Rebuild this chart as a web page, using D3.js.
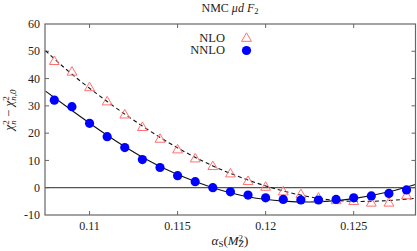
<!DOCTYPE html>
<html>
<head>
<meta charset="utf-8">
<script src="https://cdn.jsdelivr.net/npm/d3@7"></script>
<style>
  body { margin: 0; background: #fff; }
</style>
</head>
<body>
<div id="chart"></div>
<script>
// alpha_s scan points
const alphaS = [0.108, 0.109, 0.110, 0.111, 0.112, 0.113, 0.114, 0.115, 0.116, 0.117,
  0.118, 0.119, 0.120, 0.121, 0.122, 0.123, 0.124, 0.125, 0.126, 0.127, 0.128];
const nloPts = [46.2, 42.3, 36.6, 31.4, 26.6, 22.0, 17.7, 13.8, 10.5, 7.7,
  5.0, 2.2, 0.1, -1.6, -2.6, -3.9, -4.8, -5.1, -5.7, -5.7, -3.0];
const nnloPts = [32.1, 29.7, 23.6, 18.7, 14.7, 10.3, 7.4, 4.4, 2.2, 0.0,
  -1.5, -2.7, -3.7, -4.3, -4.5, -4.5, -4.3, -3.7, -3.0, -2.1, -0.8];

// fitted curves
const curveX = [0.1075, 0.109, 0.111, 0.113, 0.115, 0.117, 0.119, 0.121, 0.123, 0.125, 0.127, 0.1285];
const nloFit = [50.2, 41.6, 31.6, 22.6, 14.6, 8.0, 2.8, -1.2, -3.9, -5.0, -4.7, -3.9];
const nnloFit = [35.4, 28.3, 19.2, 11.2, 4.8, 0.0, -3.3, -4.9, -5.2, -4.0, -1.5, 1.2];

const xTicks = [0.11, 0.115, 0.12, 0.125];
const yTicks = [-10, 0, 10, 20, 30, 40, 50, 60];

const W = 417, H = 251;
const margin = { t: 24, r: 1.5, b: 36, l: 45 };
const innerWidth = W - margin.l - margin.r;
const innerHeight = H - margin.t - margin.b;
const FONT = "'Liberation Serif', 'Times New Roman', Times, serif";

const x = d3.scaleLinear().domain([0.10747, 0.12851]).range([0, innerWidth]);
const y = d3.scaleLinear().domain([-10, 60]).range([innerHeight, 0]);

const svg = d3.select('#chart').append('svg')
  .attr('width', W)
  .attr('height', H)
  .attr('font-family', FONT)
  .style('font-family', FONT);

const plot = svg.append('g')
  .attr('transform', `translate(${margin.l}, ${margin.t})`);

svg.append('clipPath').attr('id', 'clip')
  .append('rect').attr('width', innerWidth).attr('height', innerHeight);

// ticks (inward, all four sides)
const tk = 4;
plot.selectAll('.xt').data(xTicks).enter().append('g')
  .each(function(d) {
    const g = d3.select(this);
    g.append('line').attr('x1', x(d)).attr('x2', x(d)).attr('y1', innerHeight).attr('y2', innerHeight - tk);
    g.append('line').attr('x1', x(d)).attr('x2', x(d)).attr('y1', 0).attr('y2', tk);
  })
  .selectAll('line').attr('stroke', '#666').attr('stroke-width', 1);

plot.selectAll('.yt').data(yTicks.slice(1, -1)).enter().append('g')
  .each(function(d) {
    const g = d3.select(this);
    g.append('line').attr('x1', 0).attr('x2', tk).attr('y1', y(d)).attr('y2', y(d));
    g.append('line').attr('x1', innerWidth).attr('x2', innerWidth - tk).attr('y1', y(d)).attr('y2', y(d));
  })
  .selectAll('line').attr('stroke', '#666').attr('stroke-width', 1);

// tick labels
plot.selectAll('.xl').data(xTicks).enter().append('text')
  .attr('x', d => x(d))
  .attr('y', innerHeight + 15)
  .attr('text-anchor', 'middle')
  .attr('fill', '#222')
  .style('font-size', '12px')
  .text(d => d);

plot.selectAll('.yl').data(yTicks).enter().append('text')
  .attr('x', -5)
  .attr('y', d => y(d))
  .attr('dy', '0.35em')
  .attr('text-anchor', 'end')
  .attr('fill', '#222')
  .style('font-size', '12px')
  .text(d => d);

// zero line
plot.append('line')
  .attr('x1', 0).attr('x2', innerWidth)
  .attr('y1', y(0)).attr('y2', y(0))
  .attr('stroke', '#555')
  .attr('stroke-width', 1.3);

const line = d3.line()
  .x((d, i) => x(curveX[i]))
  .y(d => y(d))
  .curve(d3.curveNatural);

const lines = plot.append('g').attr('clip-path', 'url(#clip)');

lines.append('path')
  .datum(nloFit)
  .attr('d', line)
  .attr('fill', 'none')
  .attr('stroke', '#111')
  .attr('stroke-width', 1.1)
  .attr('stroke-dasharray', '4,3');

lines.append('path')
  .datum(nnloFit)
  .attr('d', line)
  .attr('fill', 'none')
  .attr('stroke', '#111')
  .attr('stroke-width', 1.1);

// markers
const tri = d3.symbol().type(d3.symbolTriangle).size(42);

plot.selectAll('.nlo').data(nloPts).enter().append('path')
  .attr('d', tri)
  .attr('transform', (d, i) => `translate(${x(alphaS[i])}, ${y(d)})`)
  .attr('fill', 'none')
  .attr('stroke', '#ff7070')
  .attr('stroke-width', 1);

plot.selectAll('.nnlo').data(nnloPts).enter().append('circle')
  .attr('cx', (d, i) => x(alphaS[i]))
  .attr('cy', d => y(d))
  .attr('r', 4.6)
  .attr('fill', '#0000ff');

// frame
plot.append('rect')
  .attr('width', innerWidth)
  .attr('height', innerHeight)
  .attr('fill', 'none')
  .attr('stroke', '#666')
  .attr('stroke-width', 1.2);

// legend
const legend = plot.append('g').attr('transform', 'translate(180, 14)');
legend.append('text').attr('x', 0).attr('y', 0).attr('dy', '0.35em')
  .attr('text-anchor', 'end').attr('fill', '#222').style('font-size', '12.5px').text('NLO');
legend.append('path').attr('d', tri)
  .attr('transform', 'translate(21.5, 0.5)')
  .attr('fill', 'none').attr('stroke', '#ff7070');
legend.append('text').attr('x', 0).attr('y', 12).attr('dy', '0.35em')
  .attr('text-anchor', 'end').attr('fill', '#222').style('font-size', '12.5px').text('NNLO');
legend.append('circle').attr('cx', 21.5).attr('cy', 12.5).attr('r', 4.6).attr('fill', '#0000ff');

// title
const title = svg.append('text')
  .attr('x', 230)
  .attr('y', 12)
  .attr('text-anchor', 'middle')
  .attr('fill', '#222')
  .style('font-size', '12px');
title.append('tspan').text('NMC ');
title.append('tspan').style('font-style', 'italic').text('μd F');
title.append('tspan').attr('baseline-shift', '-25%').style('font-size', '8.5px').text('2');

// x label
const xl = svg.append('text')
  .attr('x', 230)
  .attr('y', 245)
  .attr('text-anchor', 'middle')
  .attr('fill', '#222')
  .style('font-size', '13px');
xl.append('tspan').style('font-style', 'italic').text('α');
xl.append('tspan').attr('baseline-shift', '-25%').style('font-size', '9px').text('S');
xl.append('tspan').text('(');
xl.append('tspan').style('font-style', 'italic').text('M');
xl.append('tspan').attr('baseline-shift', '-25%').style('font-size', '9px').style('font-style', 'italic').text('Z');
xl.append('tspan').attr('dx', -5).attr('baseline-shift', '45%').style('font-size', '9px').text('2');
xl.append('tspan').attr('dx', 1).text(')');

// y label
const yl = svg.append('text')
  .attr('transform', 'translate(13, 110) rotate(-90)')
  .attr('text-anchor', 'middle')
  .attr('fill', '#222')
  .style('font-size', '13px');
yl.append('tspan').style('font-style', 'italic').text('χ');
yl.append('tspan').attr('baseline-shift', '45%').style('font-size', '9px').text('2');
yl.append('tspan').attr('dx', -4.5).attr('baseline-shift', '-30%').style('font-size', '9px').style('font-style', 'italic').text('n');
yl.append('tspan').text(' − ');
yl.append('tspan').style('font-style', 'italic').text('χ');
yl.append('tspan').attr('baseline-shift', '45%').style('font-size', '9px').text('2');
yl.append('tspan').attr('dx', -4.5).attr('baseline-shift', '-30%').style('font-size', '9px').style('font-style', 'italic').text('n,0');
</script>
</body>
</html>
